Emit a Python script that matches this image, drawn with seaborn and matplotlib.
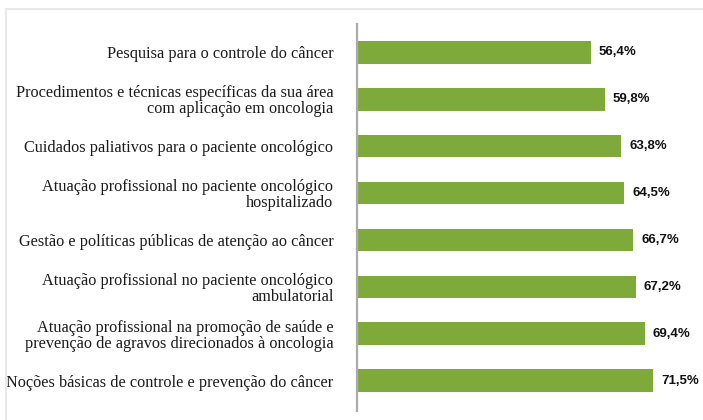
import matplotlib
matplotlib.use("Agg")
import matplotlib.pyplot as plt
from matplotlib.patches import Rectangle
import seaborn as sns
import pandas as pd

categories = [
    "Pesquisa para o controle do câncer",
    "Procedimentos e técnicas específicas da sua área\ncom aplicação em oncologia",
    "Cuidados paliativos para o paciente oncológico",
    "Atuação profissional no paciente oncológico\nhospitalizado",
    "Gestão e políticas públicas de atenção ao câncer",
    "Atuação profissional no paciente oncológico\nambulatorial",
    "Atuação profissional na promoção de saúde e\nprevenção de agravos direcionados à oncologia",
    "Noções básicas de controle e prevenção do câncer",
]
values = [56.4, 59.8, 63.8, 64.5, 66.7, 67.2, 69.4, 71.5]

df = pd.DataFrame({"cat": categories, "val": values})

sns.set_style("white")
fig = plt.figure(figsize=(7.03, 4.2), dpi=100)
W, H = 703, 420
ax = fig.add_axes([357 / W, 1 - 410.7 / H, (W - 357) / W, (410.7 - 24.3) / H])

sns.barplot(data=df, y="cat", x="val", orient="h", color="#7DAA3B",
            width=0.484, saturation=1, ax=ax, edgecolor="none")

ax.set_xlim(0, (W - 357) / 4.145)
ax.set_ylim(7.64, -0.597)
ax.set_xlabel("")
ax.set_ylabel("")
ax.set_xticks([])
for s in ["top", "right", "bottom"]:
    ax.spines[s].set_visible(False)
ax.spines["left"].set_color("#ababab")
ax.spines["left"].set_linewidth(1.6)
ax.tick_params(axis="y", length=0, pad=17)
for lab in ax.get_yticklabels():
    lab.set_fontfamily("Liberation Serif")
    lab.set_fontsize(11.7)
    lab.set_color("#1a1a1a")
    lab.set_linespacing(0.98)

for i, v in enumerate(values):
    ax.text(v + 8 / 4.145, i, f"{v:.1f}%".replace(".", ","), va="center", ha="left",
            fontsize=9.5, fontweight="bold", fontfamily="Liberation Sans", color="#111111")

fig.patches.append(Rectangle((6 / W, -0.05), 1.2, 1.05 - 9 / H, transform=fig.transFigure,
                             fill=False, edgecolor="#e8e8e8", linewidth=1.5, zorder=0))

fig.savefig("out.png", dpi=100)
